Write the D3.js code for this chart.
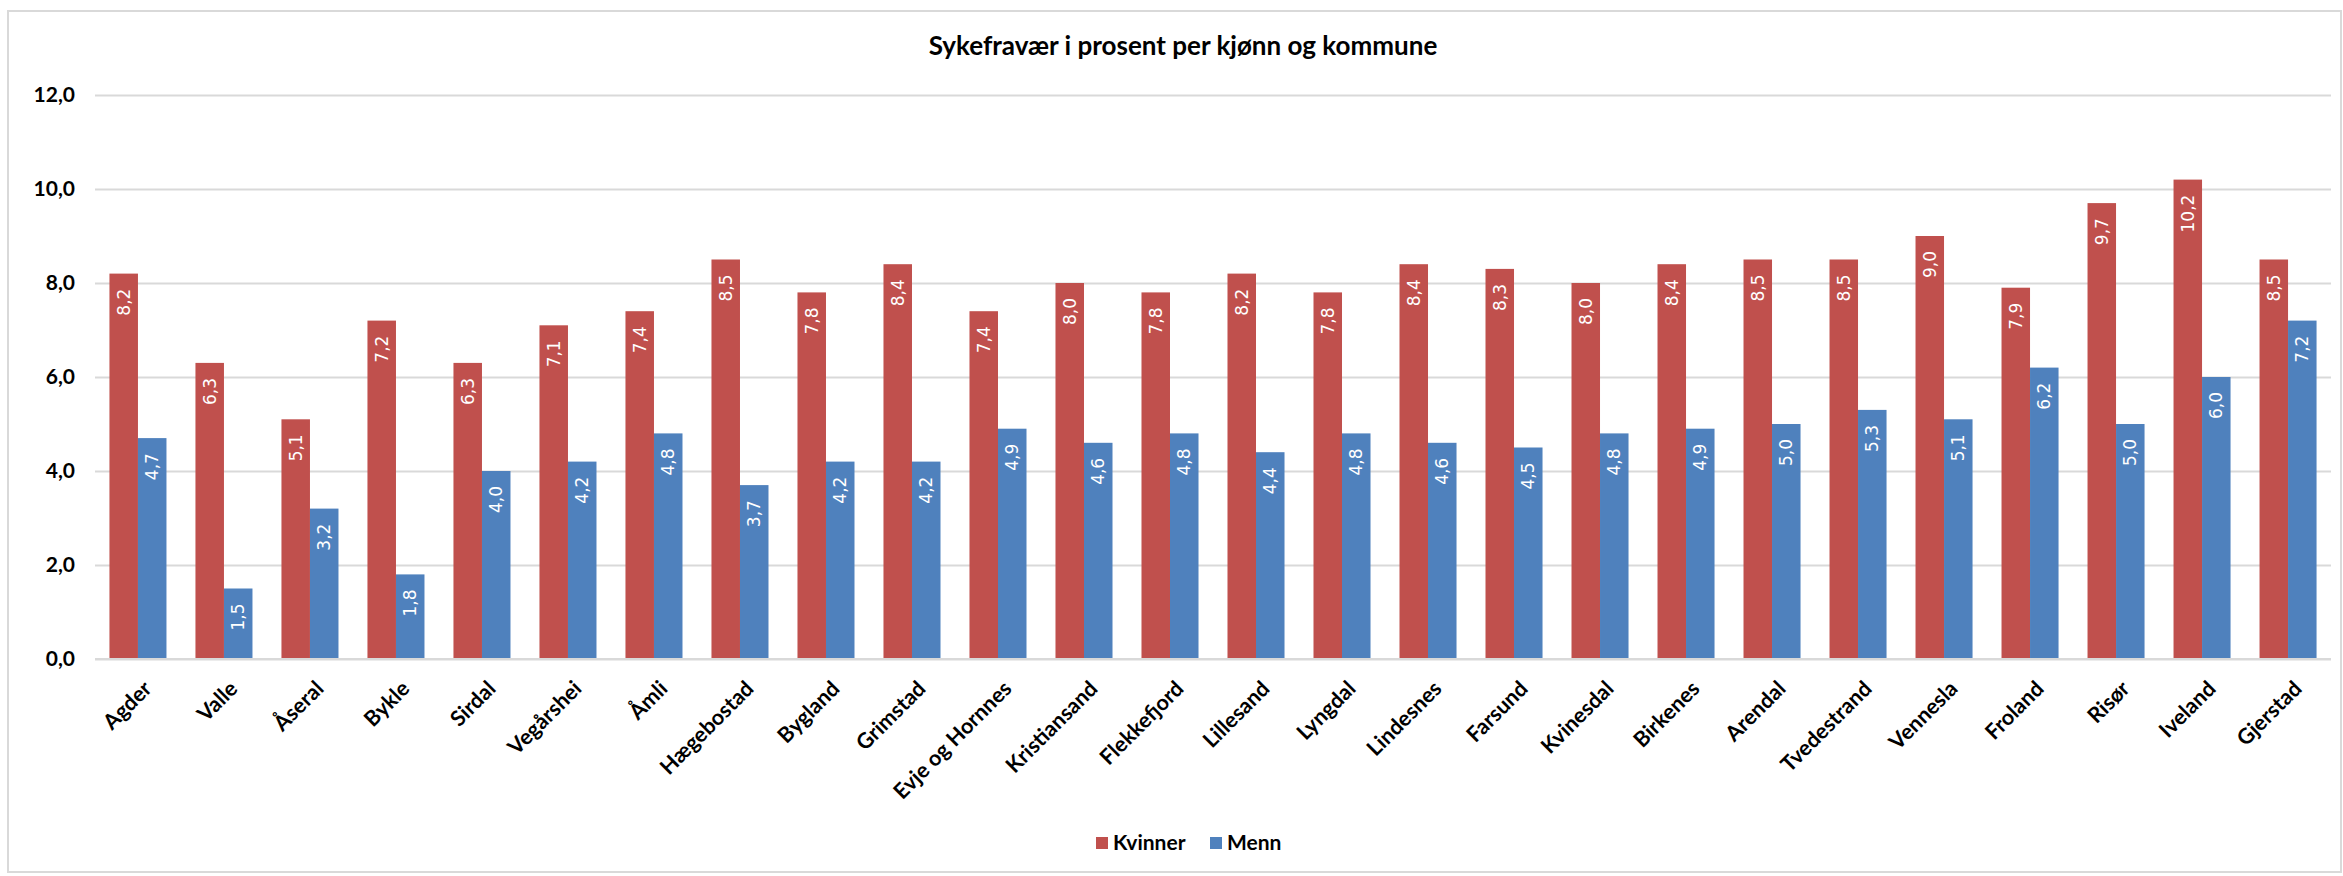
<!DOCTYPE html>
<html>
<head>
<meta charset="utf-8">
<script src="https://cdn.jsdelivr.net/npm/d3@7"></script>
<style>
  body { margin: 0; background: #fff; }
  text { font-family: Lato, "Open Sans", sans-serif; }
</style>
</head>
<body>
<div id="chart-area"></div>
<script>
// data
const kommuner = ["Agder", "Valle", "Åseral", "Bykle", "Sirdal", "Vegårshei", "Åmli", "Hægebostad",
  "Bygland", "Grimstad", "Evje og Hornnes", "Kristiansand", "Flekkefjord", "Lillesand", "Lyngdal",
  "Lindesnes", "Farsund", "Kvinesdal", "Birkenes", "Arendal", "Tvedestrand", "Vennesla", "Froland",
  "Risør", "Iveland", "Gjerstad"];
const kvinner = [8.2, 6.3, 5.1, 7.2, 6.3, 7.1, 7.4, 8.5, 7.8, 8.4, 7.4, 8.0, 7.8, 8.2, 7.8,
  8.4, 8.3, 8.0, 8.4, 8.5, 8.5, 9.0, 7.9, 9.7, 10.2, 8.5];
const menn = [4.7, 1.5, 3.2, 1.8, 4.0, 4.2, 4.8, 3.7, 4.2, 4.2, 4.9, 4.6, 4.8, 4.4, 4.8,
  4.6, 4.5, 4.8, 4.9, 5.0, 5.3, 5.1, 6.2, 5.0, 6.0, 7.2];
const serier = ["Kvinner", "Menn"];
const farger = ["#C0504D", "#4F81BD"];
const yTicks = [0, 2, 4, 6, 8, 10, 12];

const width = 2343, height = 876;
const margin = { top: 95, right: 12, bottom: 217, left: 95 };
const plotRight = width - margin.right;

const svg = d3.select("#chart-area").append("svg")
  .attr("width", width)
  .attr("height", height);

// chart frame
svg.append("rect")
  .attr("x", 8).attr("y", 11)
  .attr("width", width - 10).attr("height", height - 15)
  .attr("fill", "#fff")
  .attr("stroke", "#d9d9d9")
  .attr("stroke-width", 2);

const rows = kommuner.map((k, i) => ({ name: k, values: [kvinner[i], menn[i]] }));

const x0 = d3.scaleBand()
  .domain(kommuner)
  .range([margin.left, plotRight])
  .paddingInner(0.337)
  .paddingOuter(0.168);

const x1 = d3.scaleBand()
  .domain(serier)
  .range([0, x0.bandwidth()]);

const y = d3.scaleLinear()
  .domain([0, 12])
  .range([height - margin.bottom, margin.top]);

const fmt = d => d3.format(".1f")(d).replace(".", ",");

// grid + y labels
const yAxis = d3.axisLeft(y)
  .tickValues(yTicks)
  .tickSize(-(plotRight - margin.left))
  .tickPadding(20)
  .tickFormat(fmt);

svg.append("g")
  .attr("class", "yAxis")
  .attr("transform", `translate(${margin.left}, 0)`)
  .call(yAxis)
  .call(g => g.select(".domain").remove())
  .call(g => g.selectAll(".tick line").attr("stroke", "#d9d9d9").attr("stroke-width", 2))
  .call(g => g.selectAll(".tick text")
    .attr("fill", "#000")
    .style("font-size", "21px")
    .style("font-weight", "bold"));

// bars
const groups = svg.selectAll("g.kommune")
  .data(rows)
  .enter()
  .append("g")
  .attr("class", "kommune")
  .attr("transform", d => `translate(${x0(d.name)}, 0)`);

groups.selectAll("rect")
  .data(d => d.values.map((v, i) => ({ serie: serier[i], value: v, i: i })))
  .enter()
  .append("rect")
  .attr("x", d => x1(d.serie))
  .attr("width", x1.bandwidth())
  .attr("y", d => y(d.value))
  .attr("height", d => y(0) - y(d.value))
  .style("fill", d => farger[d.i]);

// value labels inside bar tops, rotated
groups.selectAll("text.valueLabel")
  .data(d => d.values.map((v, i) => ({ serie: serier[i], value: v })))
  .enter()
  .append("text")
  .attr("class", "valueLabel")
  .attr("transform", d => `translate(${x1(d.serie) + x1.bandwidth() / 2}, ${y(d.value) + 15}) rotate(-90)`)
  .attr("dy", "0.36em")
  .style("text-anchor", "end")
  .style("font-family", "'DejaVu Sans', sans-serif")
  .style("font-size", "17px")
  .attr("fill", "#fff")
  .text(d => fmt(d.value));

// x axis line
svg.append("line")
  .attr("x1", margin.left).attr("x2", plotRight)
  .attr("y1", y(0)).attr("y2", y(0))
  .attr("stroke", "#d9d9d9").attr("stroke-width", 2);

// category labels
svg.selectAll("text.label")
  .data(kommuner)
  .enter()
  .append("text")
  .attr("class", "label")
  .attr("transform", d => `translate(${x0(d) + x0.bandwidth() / 2 + 15}, ${y(0) + 31}) rotate(-45)`)
  .style("text-anchor", "end")
  .style("font-size", "21.5px")
  .style("font-weight", "bold")
  .attr("fill", "#000")
  .text(d => d);

// title
svg.append("text")
  .attr("class", "title")
  .attr("x", 1183)
  .attr("y", 55)
  .style("text-anchor", "middle")
  .style("font-size", "26px")
  .style("font-weight", "bold")
  .text("Sykefravær i prosent per kjønn og kommune");

// legend
const legend = svg.append("g")
  .attr("transform", "translate(1096, 843)");

const lx = [0, 114];
serier.forEach((s, i) => {
  legend.append("rect")
    .attr("x", lx[i]).attr("y", -6)
    .attr("width", 12).attr("height", 12)
    .style("fill", farger[i]);
  legend.append("text")
    .attr("x", lx[i] + 17).attr("y", 0)
    .attr("dy", "0.35em")
    .style("font-size", "21px")
    .style("font-weight", "bold")
    .text(s);
});
</script>
</body>
</html>
